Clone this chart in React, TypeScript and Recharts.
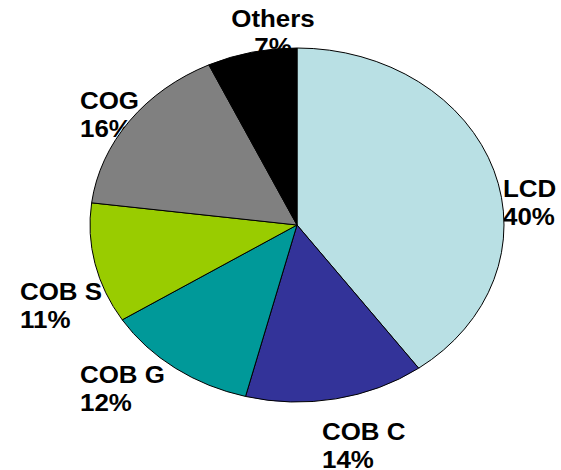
import { PieChart, Pie, Cell } from 'recharts'

const segments = ['LCD', 'COB C', 'COB G', 'COB S', 'COG', 'Others']
const shares = [40, 14, 12, 11, 16, 7]
const colors = ['#B9E0E4', '#333399', '#009999', '#99CC00', '#808080', '#000000']

const data = segments.map((name, i) => ({ name, value: shares[i] }))

// label blocks: left edge (or centre) and first baseline, as placed in the original
const labelSpots = [
  { x: 503, y: 197, anchor: 'start' },
  { x: 322, y: 440, anchor: 'start' },
  { x: 80, y: 383, anchor: 'start' },
  { x: 20, y: 300, anchor: 'start' },
  { x: 80, y: 109, anchor: 'start' },
  { x: 273, y: 27, anchor: 'middle' },
]

// the original pie is drawn squashed into an ellipse
const SQUASH = 177 / 207
const FONT = '"Liberation Sans", Arial, sans-serif'

function SliceLabel(props: any) {
  const i = props.index
  const spot = labelSpots[i]
  const pct = Math.round((props.percent ?? shares[i] / 100) * 100)
  return (
    <text
      transform={`translate(${spot.x},${spot.y}) scale(1.08,1)`}
      textAnchor={spot.anchor}
      fontFamily={FONT}
      fontWeight="bold"
      fontSize={24}
      fill="#000"
    >
      <tspan x={0} y={0}>{segments[i]}</tspan>
      <tspan x={0} y={28}>{`${pct}%`}</tspan>
    </text>
  )
}

function EllipseSlice(props: any) {
  const { cx, cy, outerRadius, startAngle, endAngle, index } = props
  const rx = outerRadius
  const ry = outerRadius * SQUASH
  const rad = Math.PI / 180
  const pt = (a: number) => `${cx + rx * Math.cos(a * rad)},${cy - ry * Math.sin(a * rad)}`
  const large = Math.abs(startAngle - endAngle) > 180 ? 1 : 0
  const sweep = startAngle > endAngle ? 1 : 0
  const d = `M${cx},${cy} L${pt(startAngle)} A${rx},${ry} 0 ${large} ${sweep} ${pt(endAngle)} Z`
  return <path d={d} fill={colors[index]} stroke="#000" strokeWidth={1} strokeLinejoin="round" />
}

export default function App() {
  return (
    <div style={{ position: 'absolute', left: 0, top: 0, background: '#fff' }}>
      <PieChart width={561} height={470} margin={{ top: 0, right: 0, bottom: 0, left: 0 }}>
        {/* text labels first so the slices can cover them, like "7%" */}
        <Pie
          data={data}
          dataKey="value"
          nameKey="name"
          cx={297}
          cy={225}
          outerRadius={207}
          startAngle={90}
          endAngle={-270}
          stroke="none"
          label={SliceLabel}
          labelLine={false}
          isAnimationActive={false}
        >
          {data.map((d) => (
            <Cell key={d.name} fill="none" stroke="none" />
          ))}
        </Pie>
        <Pie
          data={data}
          dataKey="value"
          nameKey="name"
          cx={297}
          cy={225}
          outerRadius={207}
          startAngle={90}
          endAngle={-270}
          stroke="none"
          label={EllipseSlice}
          labelLine={false}
          isAnimationActive={false}
        >
          {data.map((d) => (
            <Cell key={d.name} fill="none" stroke="none" />
          ))}
        </Pie>
      </PieChart>
    </div>
  )
}
